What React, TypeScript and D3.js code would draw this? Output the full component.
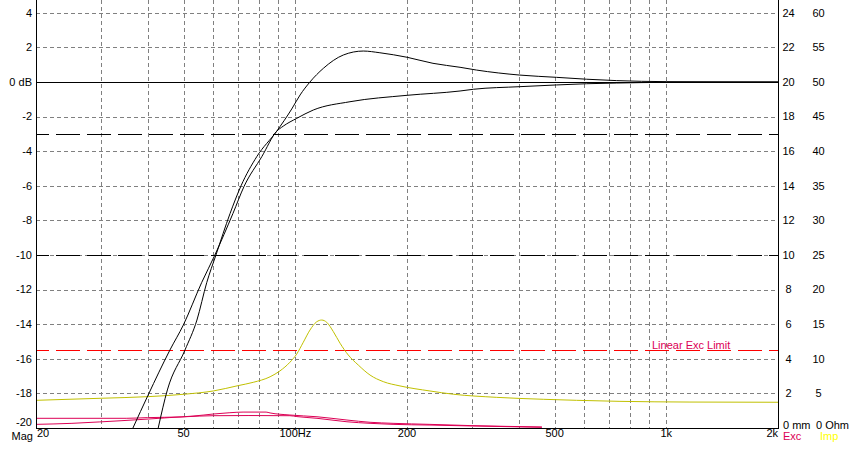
import React from "react";
import * as d3 from "d3";

const W = 852;
const H = 451;
const X0 = 36;
const X1 = 778;
const YB = 428;
const YT = 12.8;

// Axis ticks and labels
const freqTicks = [20, 50, 100, 200, 500, 1000, 2000];
const freqTickLabels = ["20", "50", "100Hz", "200", "500", "1k", "2k"];
const freqGrid = [30, 40, 50, 60, 70, 80, 90, 100, 200, 300, 400, 500, 600, 700, 800, 900, 1000];
const dbTicks = [4, 2, 0, -2, -4, -6, -8, -10, -12, -14, -16, -18, -20];
const dbTickLabels = ["4", "2", "0 dB", "-2", "-4", "-6", "-8", "-10", "-12", "-14", "-16", "-18", "-20"];
const mmTicks = [24, 22, 20, 18, 16, 14, 12, 10, 8, 6, 4, 2];
const ohmTicks = [60, 55, 50, 45, 40, 35, 30, 25, 20, 15, 10, 5];
const refLinesDb = [-3, -10];
const excLimitMm = 4.5;

// Magnitude (dB) — two responses
const magPeaked: [number, number][] = [
  [42.7, -20], [45.2, -17.8], [50.4, -15.5], [54.3, -13.76], [57.7, -11.6], [61.1, -10],
  [66.7, -7.6], [71.4, -6.0], [78.8, -4.3], [88.9, -2.87], [97.8, -1.56], [103, -0.75],
  [109.5, 0], [119, 0.79], [134.7, 1.56], [152.5, 1.79], [169, 1.69], [200, 1.43],
  [235, 1.08], [278, 0.85], [308, 0.69], [403, 0.4], [506, 0.27], [610, 0.16],
  [735, 0.08], [1000, 0.02], [2000, 0],
];
const magDamped: [number, number][] = [
  [36.5, -20], [40.1, -18.1], [45.9, -15.5], [49.9, -14.05], [55.9, -11.6], [60.7, -10],
  [67.9, -7.6], [72.7, -6.05], [81.3, -4.3], [88.9, -2.87], [92.8, -2.55], [100.9, -2.1],
  [111.8, -1.62], [140.4, -1.14], [200, -0.77], [278, -0.52], [302, -0.42], [403, -0.27],
  [506, -0.17], [610, -0.1], [735, -0.06], [1000, -0.02], [2000, 0],
];

// Impedance (Ohm)
const impedance: [number, number][] = [
  [20, 4.0], [30.1, 4.3], [40.1, 4.53], [50.2, 4.88], [60.1, 5.35], [70.2, 6.13],
  [77, 6.6], [85.5, 7.4], [90.9, 8.25], [96.7, 9.5], [100.9, 10.7], [105.1, 12.4],
  [109.5, 14.15], [114.2, 15.35], [117.8, 15.6], [121.5, 15.28], [126.6, 13.93],
  [132, 12.25], [138.9, 10.55], [147.8, 9.1], [159, 7.65], [172.6, 6.7], [191.5, 6.08],
  [230.6, 5.35], [266.6, 4.88], [349, 4.43], [466, 4.15], [573, 4.0], [750, 3.85],
  [1158, 3.75], [2000, 3.72],
];

// Excursion (mm)
const excFlat: [number, number][] = [
  [20, 0.56], [35, 0.56], [40, 0.6], [49.2, 0.64], [55.3, 0.69], [60, 0.71], [75, 0.72],
  [96.7, 0.71], [101, 0.66], [114.4, 0.56], [137.8, 0.36], [159, 0.27], [183.4, 0.21],
  [230.6, 0.17], [295.6, 0.12], [462, 0.04],
];
const excPeak: [number, number][] = [
  [20, 0.21], [25, 0.27], [29.6, 0.35], [33.9, 0.42], [40.3, 0.52], [45.7, 0.6],
  [49.2, 0.64], [53, 0.69], [56.7, 0.75], [60.2, 0.81], [66.3, 0.88], [72.3, 0.92],
  [83.4, 0.92], [85.5, 0.87], [96.7, 0.75], [114.4, 0.65], [137.8, 0.46], [159, 0.33],
  [183.4, 0.27], [230.6, 0.21], [295.6, 0.14], [462, 0.06],
];

const xs = d3.scaleLog().domain([20, 2000]).range([X0, X1]);
const yDb = d3.scaleLinear().domain([-20, 4]).range([YB, YT]);
const yMm = d3.scaleLinear().domain([0, 24]).range([YB, YT]);
const yOhm = d3.scaleLinear().domain([0, 60]).range([YB, YT]);

const px = (v: number) => Math.round(v) + 0.5;

const FONT = "'Liberation Sans', Arial, sans-serif";
const GRID = "#808080";
const CRIMSON = "#dc0055";
const OLIVE = "#c0c000";

function pathFor(data: [number, number][], ys: d3.ScaleLinear<number, number>) {
  const gen = d3
    .line<[number, number]>()
    .x((d) => xs(d[0]))
    .y((d) => ys(d[1]))
    .curve(d3.curveMonotoneX);
  return gen(data) || "";
}

export default function App() {
  return (
    <svg
      width={W}
      height={H}
      viewBox={`0 0 ${W} ${H}`}
      style={{ position: "absolute", left: 0, top: 0, background: "#fff" }}
      fontFamily={FONT}
      fontSize={11}
    >
      <defs>
        <clipPath id="plot">
          <rect x={X0} y={0} width={X1 - X0} height={YB + 0.5} />
        </clipPath>
      </defs>
      <rect x={0} y={0} width={W} height={H} fill="#fff" />

      {/* vertical grid */}
      {freqGrid.map((f) => (
        <line
          key={"vg" + f}
          x1={px(xs(f))}
          x2={px(xs(f))}
          y1={0}
          y2={YB}
          stroke={GRID}
          strokeDasharray="4,3"
          shapeRendering="crispEdges"
        />
      ))}
      {/* horizontal grid */}
      {dbTicks
        .filter((d) => d !== 0)
        .map((d) => (
          <line
            key={"hg" + d}
            x1={X0}
            x2={X1}
            y1={px(yDb(d))}
            y2={px(yDb(d))}
            stroke={GRID}
            strokeDasharray="4,3"
            shapeRendering="crispEdges"
          />
        ))}
      {/* 0 dB line */}
      <line x1={X0} x2={X1} y1={px(yDb(0))} y2={px(yDb(0))} stroke="#000" shapeRendering="crispEdges" />
      {/* -3 and -10 dB reference lines */}
      {refLinesDb.map((d) => (
        <line
          key={"ref" + d}
          x1={X0}
          x2={X1}
          y1={px(yDb(d))}
          y2={px(yDb(d))}
          stroke="#000"
          strokeDasharray="24,7"
          strokeDashoffset={11}
          shapeRendering="crispEdges"
        />
      ))}
      {/* Linear excursion limit */}
      <line
        x1={X0}
        x2={X1}
        y1={px(yMm(excLimitMm))}
        y2={px(yMm(excLimitMm))}
        stroke="#ff0000"
        strokeDasharray="24,7"
        strokeDashoffset={11}
        shapeRendering="crispEdges"
      />
      <text x={652} y={349} fill={CRIMSON}>
        Linear Exc Limit
      </text>

      <g clipPath="url(#plot)" fill="none" strokeWidth={1}>
        <path d={pathFor(impedance, yOhm)} stroke={OLIVE} />
        <path d={pathFor(excFlat, yMm)} stroke={CRIMSON} />
        <path d={pathFor(excPeak, yMm)} stroke={CRIMSON} />
        <path d={pathFor(magDamped, yDb)} stroke="#000" />
        <path d={pathFor(magPeaked, yDb)} stroke="#000" />
      </g>

      {/* axes */}
      <line x1={X0 + 0.5} x2={X0 + 0.5} y1={0} y2={YB + 1} stroke="#000" shapeRendering="crispEdges" />
      <line x1={X1 + 0.5} x2={X1 + 0.5} y1={0} y2={YB + 1} stroke="#000" shapeRendering="crispEdges" />
      <line x1={X0} x2={X1 + 1} y1={YB + 0.5} y2={YB + 0.5} stroke="#000" shapeRendering="crispEdges" />

      {/* left labels */}
      {dbTicks.map((d, i) => (
        <text
          key={"dl" + d}
          x={32}
          y={d === -20 ? 426 : yDb(d)}
          dy={d === -20 ? "0" : "0.35em"}
          textAnchor="end"
          fill="#000"
        >
          {dbTickLabels[i]}
        </text>
      ))}
      <text x={33} y={440} textAnchor="end" fill="#000">
        Mag
      </text>

      {/* right labels */}
      {mmTicks.map((m) => (
        <text key={"mm" + m} x={788.5} y={yMm(m)} dy="0.35em" textAnchor="middle" fill="#000">
          {m}
        </text>
      ))}
      {ohmTicks.map((o) => (
        <text key={"oh" + o} x={818.5} y={yOhm(o)} dy="0.35em" textAnchor="middle" fill="#000">
          {o}
        </text>
      ))}
      <text x={783} y={429} fill="#000">
        0 mm
      </text>
      <text x={816} y={429} fill="#000">
        0 Ohm
      </text>
      <text x={783} y={440} fill={CRIMSON}>
        Exc
      </text>
      <text x={820} y={440} fill="#ffff00">
        Imp
      </text>

      {/* bottom labels */}
      {freqTicks.map((f, i) => {
        const anchor = i === 0 ? "start" : i === freqTicks.length - 1 ? "end" : "middle";
        return (
          <text key={"fl" + f} x={xs(f) + (i === 0 ? 1 : 0)} y={437} textAnchor={anchor} fill="#000">
            {freqTickLabels[i]}
          </text>
        );
      })}
    </svg>
  );
}
